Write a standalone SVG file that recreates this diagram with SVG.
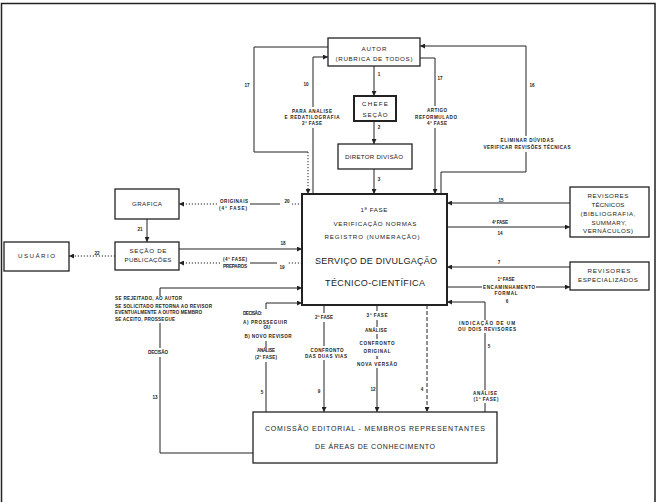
<svg xmlns="http://www.w3.org/2000/svg" width="660" height="502" viewBox="0 0 660 502">
<style>
text{font-family:"Liberation Sans",Arial,sans-serif;fill:#222;text-anchor:middle}
.t{font-size:6.2px}
.big{font-size:9px}
.c{font-size:7px}
.l{font-size:4.6px;font-weight:bold}
.box{fill:#fff;stroke:#222;stroke-width:1.3}
.thick{stroke-width:2}
.k{fill:none;stroke:#222;stroke-width:1}
.d{stroke-dasharray:1.2 1.8}
.ds{stroke-dasharray:4 2}
.ar{marker-end:url(#a)}
</style>
<defs>
<marker id="a" viewBox="0 0 6 6" refX="6" refY="3" markerWidth="5" markerHeight="5" markerUnits="userSpaceOnUse" orient="auto"><path d="M0,0 L6,3 L0,6 z" fill="#222"/></marker>
</defs>
<rect width="660" height="502" fill="#fff"/>
<path d="M1.5 502 V3.5 H655 V502" fill="none" stroke="#222" stroke-width="1.5"/>

<g id="connectors">
<path class="k ar" d="M374 66 V96"/>
<path class="k ar" d="M374 121 V144"/>
<path class="k ar" d="M374 169 V194"/>
<path class="k" d="M313 194 V128"/>
<path class="k ar" d="M313 107 V57 H328"/>
<path class="k" d="M328 47 H254 V152 H308"/>
<path class="k d ar" d="M308 152 V194"/>
<path class="k" d="M420 58 H435 V106"/>
<path class="k ar" d="M435 128 V194"/>
<path class="k" d="M441 194 V172 H526 V152"/>
<path class="k ar" d="M526 136 V46 H420"/>
<path class="k d" d="M302 204 H292"/>
<path class="k" d="M280 204 H250"/>
<path class="k d ar" d="M217 204 H179"/>
<path class="k ar" d="M147 219 V242"/>
<path class="k ar" d="M179 249 H302"/>
<path class="k d" d="M302 263 H288"/>
<path class="k" d="M277 263 H250"/>
<path class="k d ar" d="M220 263 H179"/>
<path class="k d ar" d="M115 256 H69"/>
<path class="k ar" d="M570 203 H447"/>
<path class="k ar" d="M447 227 H570"/>
<path class="k ar" d="M570 267 H447"/>
<path class="k" d="M447 287 H482"/>
<path class="k ar" d="M536 287 H570"/>
<path class="k" d="M485 412 V403"/>
<path class="k" d="M485 390 V333"/>
<path class="k ar" d="M485 320 V302 H447"/>
<path class="k ds ar" d="M427 305 V412"/>
<path class="k" d="M377 305 V311"/>
<path class="k" d="M377 320 V327"/>
<path class="k" d="M377 334 V339"/>
<path class="k ar" d="M377 368 V412"/>
<path class="k" d="M324 305 V313"/>
<path class="k" d="M324 322 V346"/>
<path class="k ar" d="M324 360 V412"/>
<path class="k" d="M266 412 V362"/>
<path class="k" d="M266 348 V341"/>
<path class="k ar" d="M266 309 V303 H302"/>
<path class="k ar" d="M160 296 V288 H302"/>
<path class="k" d="M160 323 V348"/>
<path class="k" d="M160 357 V453 H253"/>
</g>

<g id="labels">
<text class="l" x="379" y="75.7">1</text>
<text class="l" x="379" y="128.7">2</text>
<text class="l" x="379" y="180.7">3</text>
<text class="l" x="306" y="86">10</text>
<text class="l" x="247" y="86.7">17</text>
<text class="l" x="440" y="79.7">17</text>
<text class="l" x="532" y="86.7">16</text>
<text class="l" x="287" y="202.7">20</text>
<text class="l" x="140" y="230.7">21</text>
<text class="l" x="283" y="244.7">18</text>
<text class="l" x="282" y="268.7">19</text>
<text class="l" x="97" y="254.7">22</text>
<text class="l" x="501" y="201.7">15</text>
<text class="l" x="500" y="234.7">14</text>
<text class="l" x="499" y="263.7">7</text>
<text class="l" x="507" y="302.7">6</text>
<text class="l" x="489" y="347.7">5</text>
<text class="l" x="422" y="390.7">4</text>
<text class="l" x="373" y="390.7">12</text>
<text class="l" x="319" y="392.7">9</text>
<text class="l" x="262" y="393.7">5</text>
<text class="l" x="155" y="398.7">13</text>

<text class="l" x="312" y="112.7" textLength="40">PARA ANALISE</text>
<text class="l" x="312" y="118.7" textLength="55">E REDATILOGRAFIA</text>
<text class="l" x="312" y="124.7" textLength="20">2ª FASE</text>
<text class="l" x="437" y="111.7" textLength="20">ARTIGO</text>
<text class="l" x="436" y="118.7" textLength="42">REFORMULADO</text>
<text class="l" x="437" y="124.7" textLength="20">4ª FASE</text>
<text class="l" x="527" y="141.7" textLength="53">ELIMINAR DÚVIDAS</text>
<text class="l" x="527" y="148.7" textLength="87">VERIFICAR REVISÕES TÉCNICAS</text>
<text class="l" x="234" y="202.7" textLength="28">ORIGINAIS</text>
<text class="l" x="233" y="209.7" textLength="28">(4ª FASE)</text>
<text class="l" x="235" y="260.7" textLength="24">(4ª FASE)</text>
<text class="l" x="235" y="267.7" textLength="24">PREPAROS</text>
<text class="l" x="500" y="223.7" textLength="16">4ª FASE</text>
<text class="l" x="506" y="280.7" textLength="17">1ª FASE</text>
<text class="l" x="509" y="288.7" textLength="52">ENCAMINHAMENTO</text>
<text class="l" x="506" y="294.7" textLength="23">FORMAL</text>
<text class="l" x="487" y="324.7" textLength="56">INDICAÇÃO DE UM</text>
<text class="l" x="487" y="330.7" textLength="58">OU DOIS REVISORES</text>
<text class="l" x="485" y="394.7" textLength="24">ANÁLISE</text>
<text class="l" x="486" y="400.7" textLength="25">(1ª FASE)</text>
<text class="l" x="324" y="318.7" textLength="18">2ª FASE</text>
<text class="l" x="327" y="351.7" textLength="33">CONFRONTO</text>
<text class="l" x="326" y="357.7" textLength="42">DAS DUAS VIAS</text>
<text class="l" x="377" y="316.7" textLength="21">3ª FASE</text>
<text class="l" x="376" y="331.7" textLength="22">ANÁLISE</text>
<text class="l" x="377" y="344.7" textLength="35">CONFRONTO</text>
<text class="l" x="377" y="352.7" textLength="27">ORIGINAL</text>
<text class="l" x="377" y="358.7">x</text>
<text class="l" x="377" y="365.7" textLength="40">NOVA VERSÃO</text>
<text class="l" x="252.5" y="314.7" textLength="19">DECISÃO:</text>
<text class="l" x="265" y="323.7" textLength="44">A) PROSSEGUIR</text>
<text class="l" x="267" y="328.9">OU</text>
<text class="l" x="268" y="337.7" textLength="47">B) NOVO REVISOR</text>
<text class="l" x="266" y="352.4" textLength="18">ANÁLISE</text>
<text class="l" x="266" y="359" textLength="22">(2ª FASE)</text>
<text class="l" x="148.5" y="299.7" textLength="67">SE REJEITADO, AO AUTOR</text>
<text class="l" x="163.5" y="307.5" textLength="97">SE SOLICITADO RETORNA AO REVISOR</text>
<text class="l" x="158.5" y="314" textLength="87">EVENTUALMENTE A OUTRO MEMBRO</text>
<text class="l" x="145" y="321" textLength="60">SE ACEITO, PROSSEGUE</text>
<text class="l" x="158" y="353.7" textLength="20">DECISÃO</text>
</g>

<g id="autor">
<rect class="box" x="328" y="38" width="92" height="28"/>
<text class="t" x="374" y="50.5" textLength="25">AUTOR</text>
<text class="t" x="374" y="60.5" textLength="77">(RUBRICA DE TODOS)</text>
</g>
<g id="chefe">
<rect class="box thick" x="354" y="96" width="42" height="25"/>
<text class="t" x="375" y="106.2" textLength="26">CHEFE</text>
<text class="t" x="375" y="117.2" textLength="25">SEÇÃO</text>
</g>
<g id="diretor">
<rect class="box" x="338" y="144" width="74" height="25"/>
<text class="t" x="374" y="159.2" textLength="58">DIRETOR DIVISÃO</text>
</g>
<g id="servico">
<rect class="box thick" x="302" y="194" width="145" height="111"/>
<text class="t" x="374" y="211.5" textLength="27">1ª FASE</text>
<text class="t" x="375" y="225.5" textLength="83">VERIFICAÇÃO NORMAS</text>
<text class="t" x="372" y="238.9" textLength="95">REGISTRO (NUMERAÇÃO)</text>
<text class="big" x="376" y="264.3" textLength="122">SERVIÇO DE DIVULGAÇÃO</text>
<text class="big" x="375" y="286" textLength="100">TÉCNICO-CIENTÍFICA</text>
</g>
<g id="grafica">
<rect class="box" x="115" y="189" width="64" height="30"/>
<text class="t" x="147" y="206.2" textLength="30">GRAFICA</text>
</g>
<g id="secao">
<rect class="box" x="115" y="242" width="64" height="28"/>
<text class="t" x="148" y="253.2" textLength="37">SEÇÃO DE</text>
<text class="t" x="148" y="262.2" textLength="47">PUBLICAÇÕES</text>
</g>
<g id="usuario">
<rect class="box" x="4" y="242" width="65" height="29"/>
<text class="t" x="36.5" y="257.9" textLength="37">USUÁRIO</text>
</g>
<g id="revtec">
<rect class="box" x="570" y="187" width="79" height="50"/>
<text class="t" x="608" y="197.9" textLength="41">REVISORES</text>
<text class="t" x="608" y="207.2" textLength="33">TÉCNICOS</text>
<text class="t" x="608" y="215.5" textLength="55">(BIBLIOGRAFIA,</text>
<text class="t" x="609" y="224.9" textLength="35">SUMMARY,</text>
<text class="t" x="608" y="232.9" textLength="50">VERNÁCULOS)</text>
</g>
<g id="revesp">
<rect class="box" x="570" y="262" width="79" height="28"/>
<text class="t" x="609" y="272.9" textLength="43">REVISORES</text>
<text class="t" x="608" y="281.5" textLength="60">ESPECIALIZADOS</text>
</g>
<g id="comissao">
<rect class="box" x="253" y="412" width="244" height="51"/>
<text class="c" x="375" y="430.8" textLength="220">COMISSÃO EDITORIAL - MEMBROS REPRESENTANTES</text>
<text class="c" x="375" y="448.5" textLength="120">DE ÁREAS DE CONHECIMENTO</text>
</g>
</svg>
